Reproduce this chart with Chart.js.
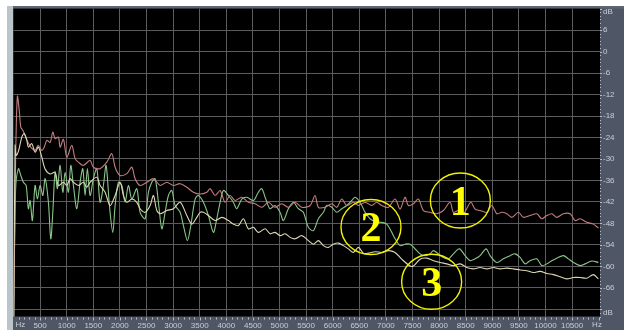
<!DOCTYPE html>
<html>
<head>
<meta charset="utf-8">
<script src="https://cdn.jsdelivr.net/npm/chart.js@4/dist/chart.umd.min.js"></script>
<style>
  html, body { margin: 0; padding: 0; background: #ffffff; }
  canvas { display: block; }
</style>
</head>
<body>
<canvas id="spec" width="624" height="330"></canvas>
<script>
// Frequency axis (Hz) labelled ticks and level axis (dB) ticks
const hzTicks = [500, 1000, 1500, 2000, 2500, 3000, 3500, 4000, 4500, 5000, 5500,
                 6000, 6500, 7000, 7500, 8000, 8500, 9000, 9500, 10000, 10500];
const dbTicks = [6, 0, -6, -12, -18, -24, -30, -36, -42, -48, -54, -60, -66, -72];
const dbLabelled = [6, 0, -6, -12, -18, -24, -30, -36, -42, -48, -54, -60, -66];

// Spectrum 1 (rose)
const freq1 = [0, 40, 73, 111, 137, 175, 218, 274, 331, 406, 462, 532, 575, 626, 688, 739, 782, 844, 876, 938,
  1002, 1096, 1158, 1220, 1314, 1440, 1502, 1628, 1754, 1848, 1910, 2004, 2130, 2224, 2286, 2380, 2506, 2630,
  2756, 2882, 3006, 3132, 3258, 3382, 3508, 3633, 3696, 3790, 3884, 3977, 4072, 4166, 4291, 4415, 4541, 4667,
  4791, 4917, 5043, 5167, 5293, 5419, 5575, 5669, 5731, 5857, 5983, 6077, 6171, 6265, 6389, 6483, 6609, 6735,
  6829, 6923, 7047, 7173, 7267, 7361, 7423, 7517, 7611, 7705, 7831, 7957, 8081, 8207, 8269, 8363, 8457, 8596,
  8677, 8771, 8897, 8991, 9085, 9179, 9273, 9367, 9491, 9585, 9711, 9837, 9931, 10025, 10119, 10213, 10337,
  10463, 10557, 10651, 10777, 10901, 10995];
const level1 = [-80, -30, -12.5, -16.9, -21.1, -22, -23.4, -25.4, -26.8, -27.6, -26.2, -27.6, -26.8, -24.8, -25.4,
  -22.5, -24.3, -23.9, -26.7, -24.5, -29.5, -26.2, -29.9, -30.9, -31.8, -30.4, -32.3, -32.7, -30.9, -28.5, -32.3,
  -34.6, -34.1, -32.3, -35.5, -37.4, -36.5, -35.5, -37.4, -36.5, -37.4, -36.9, -37.9, -39.3, -39.8, -39.3, -38.3,
  -40.2, -38.8, -42.1, -40.2, -41.6, -40.7, -42.1, -42.5, -43.5, -42.1, -43.5, -42.5, -43.5, -42.1, -43.5, -43,
  -40.2, -43.5, -43.5, -42.5, -43.5, -41.2, -43, -42.1, -43, -42.1, -43, -42.1, -43, -43.5, -41.2, -44, -40.7,
  -43, -42.5, -41.2, -44.4, -44.9, -45.3, -44.4, -42.1, -44.9, -44.4, -45.3, -42.1, -44, -44.4, -44.9, -43, -45.3,
  -44.9, -45.3, -46.3, -44.9, -46.3, -45.8, -45.3, -46.7, -45.8, -45.3, -46.3, -45.3, -45.3, -47.2, -46.7, -47.7,
  -48.2, -49.3];

// Spectrum 2 (green)
const freq2 = [0, 39, 92, 137, 186, 237, 280, 312, 355, 406, 449, 500, 551, 594, 656, 701, 739, 782, 825, 876, 927,
  970, 1032, 1077, 1126, 1190, 1252, 1303, 1346, 1389, 1440, 1502, 1566, 1628, 1690, 1741, 1803, 1867, 1910, 1972,
  2036, 2098, 2160, 2224, 2318, 2380, 2474, 2536, 2600, 2662, 2724, 2788, 2850, 2912, 2976, 3038, 3132, 3194, 3269,
  3333, 3414, 3476, 3570, 3664, 3758, 3821, 3884, 3946, 4040, 4133, 4197, 4291, 4385, 4509, 4603, 4667, 4742, 4823,
  4917, 5011, 5073, 5167, 5261, 5355, 5449, 5543, 5637, 5731, 5825, 5889, 5983, 6077, 6171, 6265, 6359, 6421, 6515,
  6609, 6703, 6829, 6923, 7017, 7111, 7173, 7267, 7361, 7455, 7549, 7643, 7737, 7831, 7893, 7987, 8081, 8175, 8269,
  8382, 8489, 8583, 8677, 8771, 8884, 8959, 9085, 9209, 9335, 9429, 9523, 9617, 9711, 9837, 9931, 10025, 10119,
  10213, 10337, 10431, 10525, 10651, 10745, 10871, 10995];
const level2 = [-80, -38.8, -32.7, -34.6, -36.5, -37.4, -43.9, -41.6, -47.2, -37.4, -41.2, -37.4, -40.2, -35.5, -42.1,
  -52.3, -44.9, -33.7, -38.3, -31.8, -39.3, -33.7, -39.3, -31.8, -37.4, -43.9, -36.5, -32.7, -40.2, -32.7, -40.2,
  -35.5, -32.7, -42.1, -37.4, -31.8, -43, -50.5, -43, -36.5, -37.4, -42.1, -37.4, -41.2, -38.3, -44.9, -46.7, -39.3,
  -36.5, -35.5, -42.1, -49.5, -44.9, -40.2, -38.8, -43, -44.9, -48.6, -52.8, -48.6, -41.2, -40.2, -42.1, -45.8, -50.5,
  -46.7, -42.1, -38.8, -40.2, -42.1, -43.9, -41.2, -40.7, -41.6, -39.3, -38.3, -41.2, -43.9, -43, -44.9, -47.2, -43.9,
  -42.1, -43.9, -44.9, -49.1, -50, -46.7, -44.9, -43, -43.5, -44.9, -43.9, -43, -41.6, -40.7, -42.1, -44.9, -46.7,
  -47.7, -47.7, -48.2, -50.5, -52.3, -54.2, -53.8, -53.8, -55.1, -56.5, -57, -56.5, -55.6, -56.5, -57.5, -57.9, -56.5,
  -55.1, -57, -58.4, -57.9, -57, -55.1, -57, -58.9, -57.9, -57, -56.5, -57.5, -59.3, -58.4, -57.9, -59.8, -59.3, -58.4,
  -57.7, -57, -57.9, -58.9, -59.8, -59.3, -58.5, -58.9];

// Spectrum 3 (cream)
const freq3 = [0, 30, 49, 92, 156, 199, 250, 280, 344, 406, 468, 532, 594, 688, 782, 844, 938, 1002, 1064, 1126, 1220,
  1314, 1378, 1440, 1566, 1628, 1722, 1816, 1910, 2004, 2066, 2130, 2224, 2318, 2380, 2474, 2568, 2630, 2694, 2756,
  2882, 3006, 3132, 3258, 3352, 3446, 3508, 3570, 3664, 3790, 3915, 4040, 4133, 4228, 4321, 4415, 4509, 4603, 4730,
  4823, 4917, 5011, 5105, 5199, 5293, 5419, 5543, 5637, 5731, 5825, 5919, 6013, 6107, 6201, 6295, 6389, 6483, 6577,
  6671, 6797, 6923, 7047, 7173, 7299, 7455, 7517, 7643, 7769, 7893, 8019, 8145, 8269, 8395, 8521, 8645, 8771, 8897,
  9021, 9147, 9273, 9397, 9523, 9649, 9773, 9899, 10025, 10149, 10275, 10401, 10525, 10651, 10777, 10901, 10995];
const level3 = [-80, -26.2, -29, -27.9, -23.9, -22.9, -24.8, -26.7, -25.7, -28.1, -26.7, -29.5, -32.8, -34.2, -33.7,
  -37.4, -36.5, -37.4, -35.5, -36.5, -37.4, -36.5, -37.9, -36.5, -35.1, -37.4, -39.3, -43, -40.2, -36.5, -40.2, -42.1,
  -41.2, -42.1, -43.9, -44.9, -43, -40.2, -44.4, -45.3, -44.4, -43.9, -42.1, -45.8, -48.2, -46.3, -44.9, -44.9, -45.8,
  -47.2, -46.3, -47.2, -48.2, -48.6, -46.7, -49.5, -49.1, -50.5, -49.5, -50.9, -50.5, -51.4, -50.9, -51.9, -52.3,
  -51.4, -52.8, -53.8, -52.8, -54.2, -54.7, -53.8, -53.5, -54.2, -55.1, -56.1, -54.7, -56.3, -56.3, -55.9, -56.1,
  -55.6, -56.1, -58, -59.9, -59.9, -58, -57.7, -58.4, -58.9, -59.3, -59.8, -59.3, -60.3, -60.7, -60.3, -60.7, -60.3,
  -60.7, -60.5, -60.7, -61, -61.2, -61.7, -61.4, -62, -62.3, -62.9, -63.5, -63.1, -63.1, -63.3, -62.3, -63.5];

// Numbered callouts (centre in Hz / dB)
const calloutText = ['1', '2', '3'];
const calloutHz = [8400, 6720, 7860];
const calloutDb = [-41.6, -49.0, -64.3];

const pts = (f, l) => f.map((v, i) => ({ x: v, y: l[i] }));

const PANEL = '#4f5767';
const TICK_TXT = '#c9ccd2';
const FONT = '8px "Liberation Sans", Arial, sans-serif';

const frame = {
  id: 'frame',
  beforeDraw(chart) {
    const { ctx, chartArea: a, width, height } = chart;
    ctx.save();
    ctx.fillStyle = PANEL;
    ctx.fillRect(0, 0, width, height);
    ctx.fillStyle = '#ffffff';
    ctx.fillRect(0, 0, width, 6);
    ctx.fillRect(0, 0, 7, height);
    ctx.fillStyle = '#b9c5c9';
    ctx.fillRect(7, 6, 6, height - 6);
    ctx.fillStyle = '#5f6672';
    ctx.fillRect(13, 6, width - 13, a.top - 6);
    ctx.fillStyle = '#000000';
    ctx.fillRect(a.left, a.top, a.right - a.left, a.bottom - a.top);
    ctx.restore();
  },
  afterDatasetsDraw(chart) {
    const { ctx, chartArea: a, scales: { x, y } } = chart;
    ctx.save();
    // minor tick dots on both rulers
    ctx.fillStyle = '#b8bcc4';
    for (let d = -74; d <= 12; d++) {
      const py = Math.round(y.getPixelForValue(d));
      ctx.fillRect(a.right, py, (d % 6 === 0) ? 2 : 1, 1);
    }
    for (let f = 100; f < 11025; f += 100) {
      const px = Math.round(x.getPixelForValue(f));
      ctx.fillRect(px, a.bottom + 1, 1, (f % 500 === 0) ? 3 : 2);
    }
    // unit labels
    ctx.fillStyle = TICK_TXT;
    ctx.font = FONT;
    ctx.textBaseline = 'middle';
    ctx.textAlign = 'left';
    ctx.fillText('dB', a.right + 3, a.top + 3);
    ctx.fillText('dB', a.right + 3, a.bottom - 4);
    ctx.fillText('Hz', a.left + 2, a.bottom + 8);
    ctx.textAlign = 'center';
    ctx.fillText('Hz', a.right - 3, a.bottom + 8);

    // numbered callouts
    ctx.beginPath();
    ctx.rect(a.left, a.top, a.right - a.left, a.bottom - a.top);
    ctx.clip();
    ctx.strokeStyle = '#f2f200';
    ctx.fillStyle = '#ffff00';
    ctx.lineWidth = 1.4;
    ctx.font = 'bold 42px "Liberation Serif", "Times New Roman", serif';
    ctx.textAlign = 'center';
    ctx.textBaseline = 'alphabetic';
    calloutText.forEach((t, i) => {
      const cx = x.getPixelForValue(calloutHz[i]);
      const cy = y.getPixelForValue(calloutDb[i]);
      ctx.beginPath();
      ctx.ellipse(cx, cy, 30, 27.5, 0, 0, Math.PI * 2);
      ctx.stroke();
      ctx.fillText(t, cx, cy + 14.5);
    });
    ctx.restore();
  }
};

new Chart(document.getElementById('spec'), {
  type: 'line',
  data: {
    datasets: [
      { data: pts(freq3, level3), borderColor: '#dcd8b4', order: 1 },
      { data: pts(freq1, level1), borderColor: '#c27d7d', order: 2 },
      { data: pts(freq2, level2), borderColor: '#8ac68a', order: 3 }
    ]
  },
  options: {
    responsive: false,
    animation: false,
    layout: { padding: { left: 13.5, top: 8.6, right: 0, bottom: 0 } },
    elements: {
      point: { radius: 0 },
      line: { borderWidth: 1.1, tension: 0.3, fill: false }
    },
    plugins: { legend: { display: false }, tooltip: { enabled: false } },
    scales: {
      x: {
        type: 'linear', min: 0, max: 11025,
        afterFit(s) { s.height = 13.5; },
        afterBuildTicks(s) { s.ticks = hzTicks.map(v => ({ value: v })); },
        grid: { color: '#5c5c5c', lineWidth: 1, drawTicks: false },
        border: { display: false },
        ticks: { color: TICK_TXT, font: { family: '"Liberation Sans", Arial, sans-serif', size: 8 },
                 padding: 4, maxRotation: 0, autoSkip: false, callback: v => String(v) }
      },
      y: {
        type: 'linear', position: 'right', min: -74, max: 12,
        afterFit(s) { s.width = 24; },
        afterBuildTicks(s) { s.ticks = dbTicks.map(v => ({ value: v })); },
        grid: { color: '#5c5c5c', lineWidth: 1, drawTicks: false },
        border: { display: false },
        ticks: { color: TICK_TXT, font: { family: '"Liberation Sans", Arial, sans-serif', size: 8 },
                 padding: 3, autoSkip: false,
                 callback: v => dbLabelled.includes(v) ? String(v) : '' }
      }
    }
  },
  plugins: [frame]
});
</script>
</body>
</html>
